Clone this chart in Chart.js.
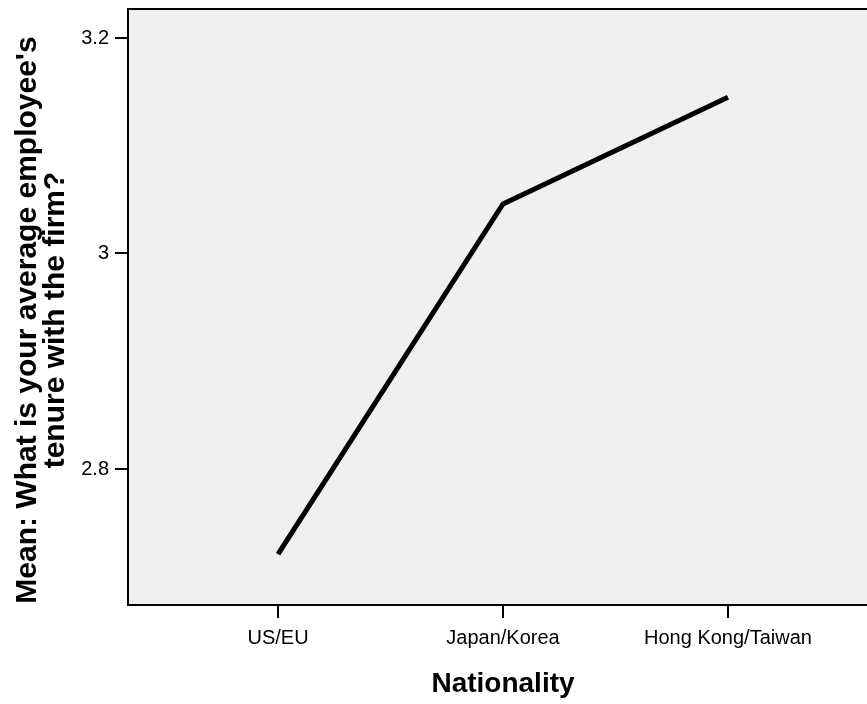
<!DOCTYPE html>
<html>
<head>
<meta charset="utf-8">
<script src="https://cdn.jsdelivr.net/npm/chart.js@4/dist/chart.umd.min.js"></script>
<style>
  body { margin: 0; background: #fff; }
  #wrap { width: 867px; height: 704px; position: relative; }
</style>
</head>
<body>
<div id="wrap"><canvas id="chart"></canvas></div>
<script>
// data
const categories = ['US/EU', 'Japan/Korea', 'Hong Kong/Taiwan'];
const meanTenure = [2.721, 3.046, 3.145];
const yTicks = [2.8, 3.0, 3.2];
const xTitle = 'Nationality';
const yTitleLines = ["Mean: What is your average employee's", 'tenure with the firm?'];

const FONT = '"Liberation Sans", Arial, sans-serif';

// gray plot background + top frame line + axis titles
const frame = {
    id: 'frame',
    beforeDraw(chart) {
        const { ctx, chartArea: a } = chart;
        ctx.save();
        ctx.fillStyle = '#f0f0f0';
        ctx.fillRect(a.left, a.top, a.right - a.left, a.bottom - a.top);
        ctx.restore();
    },
    afterDraw(chart) {
        const { ctx, chartArea: a } = chart;
        ctx.save();
        ctx.strokeStyle = '#000';
        ctx.lineWidth = 2;
        ctx.beginPath();
        ctx.moveTo(a.left, a.top);
        ctx.lineTo(a.right, a.top);
        ctx.stroke();

        ctx.fillStyle = '#000';
        ctx.font = 'bold 28px ' + FONT;
        ctx.textAlign = 'center';
        ctx.textBaseline = 'alphabetic';
        const xs = chart.scales.x;
        ctx.fillText(xTitle, xs.getPixelForValue(1), 692);

        ctx.font = 'bold 30px ' + FONT;
        ctx.translate(0, 320);
        ctx.rotate(-Math.PI / 2);
        ctx.fillText(yTitleLines[0], 0, 36);
        ctx.fillText(yTitleLines[1], 0, 64);
        ctx.restore();
    }
};

new Chart(document.getElementById('chart'), {
    type: 'line',
    data: {
        datasets: [{
            data: meanTenure.map((v, i) => ({ x: i, y: v })),
            borderColor: '#000',
            borderWidth: 5,
            pointRadius: 0,
            tension: 0,
            fill: false
        }]
    },
    options: {
        responsive: true,
        maintainAspectRatio: false,
        animation: false,
        layout: { padding: { top: 9, left: 0, right: 0, bottom: 0 } },
        plugins: { legend: { display: false }, tooltip: { enabled: false } },
        scales: {
            x: {
                type: 'linear',
                min: -0.667,
                max: 2.618,
                afterBuildTicks: axis => { axis.ticks = categories.map((_, i) => ({ value: i })); },
                afterFit: axis => { axis.height = 99; axis.paddingLeft = 0; axis.paddingRight = 0; },
                ticks: {
                    callback: v => categories[v],
                    color: '#000',
                    font: { family: FONT, size: 20 },
                    padding: 8,
                    maxRotation: 0,
                    autoSkip: false
                },
                grid: { drawOnChartArea: false, drawTicks: true, tickLength: 13, color: '#000', lineWidth: 2 },
                border: { display: true, color: '#000', width: 2 }
            },
            y: {
                min: 2.6738,
                max: 3.2269,
                afterBuildTicks: axis => { axis.ticks = yTicks.map(v => ({ value: v })); },
                afterFit: axis => { axis.width = 128; axis.paddingTop = 0; axis.paddingBottom = 0; },
                ticks: {
                    callback: v => String(+v.toFixed(1)),
                    color: '#000',
                    font: { family: FONT, size: 20 },
                    padding: 6
                },
                grid: { drawOnChartArea: false, drawTicks: true, tickLength: 13, color: '#000', lineWidth: 2 },
                border: { display: true, color: '#000', width: 2 }
            }
        }
    },
    plugins: [frame]
});
</script>
</body>
</html>
